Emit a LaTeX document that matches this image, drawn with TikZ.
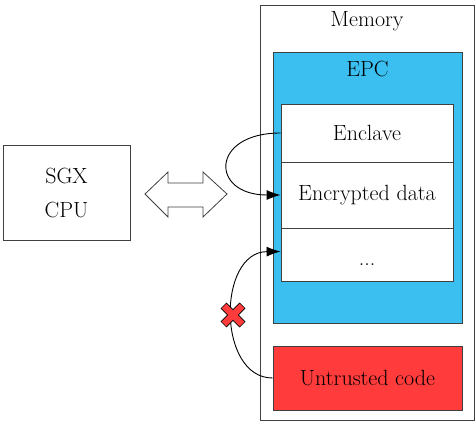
\documentclass[tikz,border=0pt]{standalone}
\usepackage{fontspec}
\usetikzlibrary{arrows.meta,calc}
\definecolor{epcblue}{RGB}{58,191,240}
\definecolor{untrustred}{RGB}{255,59,59}
\definecolor{boxgray}{RGB}{64,64,64}
\tikzset{
  box/.style={draw=boxgray,line width=0.9pt,rectangle,inner sep=0pt,font=\fontsize{22}{26}\selectfont},
  lbl/.style={font=\fontsize{22}{26}\selectfont,inner sep=0pt},
  conn/.style={line width=0.9pt,-{Latex[length=14pt,width=10pt]}},
}
\begin{document}
\begin{tikzpicture}[x=1pt,y=-1pt]
\useasboundingbox (0,0) rectangle (476,422);
% Memory
\node[box,minimum width=214pt,minimum height=415pt] (mem) at (367,212.5) {};
\node[lbl] (memlbl) at (367,21) {Memory};
% EPC
\node[box,fill=epcblue,minimum width=189pt,minimum height=271pt] (epc) at (367.5,187.5) {};
\node[lbl] (epclbl) at (367.5,69) {EPC};
% inner
\node[box,fill=white,minimum width=172pt,minimum height=58pt] (enc) at (367,133) {Enclave};
\node[box,fill=white,minimum width=172pt,minimum height=66pt] (data) at (367,195) {Encrypted data};
\node[box,fill=white,minimum width=172pt,minimum height=53pt] (dots) at (367,254.5) {};
\node[lbl] (dotslbl) at (367,265) {...};
% untrusted
\node[box,fill=untrustred,minimum width=189pt,minimum height=64pt] (untr) at (367.5,378) {Untrusted code};
% CPU
\node[box,minimum width=127pt,minimum height=95pt,align=center] (cpu) at (66.5,192.5) {SGX\\[8pt]CPU};
% double arrow
\draw[boxgray,line width=0.8pt,fill=white] (145,194) -- (168,172) -- (168,183) -- (203,183) -- (203,172) -- (227,194) -- (203,217) -- (203,207) -- (168,207) -- (168,217) -- cycle;
% connectors
\draw[conn] (enc.west) .. controls (210,133) and (210,195) .. (data.west);
\draw[conn] (untr.west) .. controls (217,378) and (217,252) .. ($(dots.west)+(0,-3)$);
% red cross
\coordinate (x) at (233,315);
\draw[black,line width=8.2pt] ($(x)+(-9.5,-9.5)$) -- ($(x)+(9.5,9.5)$) ($(x)+(-9.5,9.5)$) -- ($(x)+(9.5,-9.5)$);
\draw[untrustred,line width=6.4pt] ($(x)+(-9,-9)$) -- ($(x)+(9,9)$) ($(x)+(-9,9)$) -- ($(x)+(9,-9)$);
\end{tikzpicture}
\end{document}
